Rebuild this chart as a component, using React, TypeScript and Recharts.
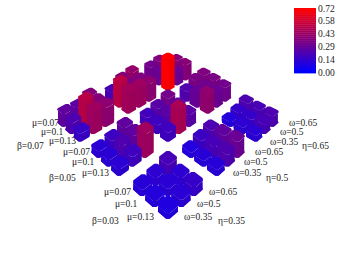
import React from 'react';
import { ScatterChart, Scatter, XAxis, YAxis, Customized } from 'recharts';

const W = 346, H = 260;
const betas = ['β=0.03', 'β=0.05', 'β=0.07'];
const etas = ['η=0.35', 'η=0.5', 'η=0.65'];
const legendTicks = ['0.72', '0.58', '0.43', '0.29', '0.14', '0.00'];
const VMAX = 0.72;

// rows: μ=0.07, 0.1, 0.13; columns: ω=0.35, 0.5, 0.65
const b03e35 = [[.11, .13, .2], [.1, .12, .13], [.09, .12, .15]];
const b03e50 = [[.1, .17, .22], [.11, .2, .27], [.11, .22, .3]];
const b03e65 = [[.1, .15, .22], [.13, .15, .21], [.12, .2, .22]];
const b05e35 = [[.12, .17, .27], [.12, .22, .27], [.12, .18, .45]];
const b05e50 = [[.19, .25, .33], [.18, .25, .28], [.18, .48, .25]];
const b05e65 = [[.23, .35, .36], [.29, .32, .35], [.41, .3, .32]];
const b07e35 = [[.27, .26, .37], [.22, .52, .37], [.16, .45, .4]];
const b07e50 = [[.21, .38, .42], [.53, .35, .36], [.46, .45, .4]];
const b07e65 = [[.32, .36, .3], [.3, .3, .38], [.72, .3, .38]];
const blocks = [[b03e35, b03e50, b03e65], [b05e35, b05e50, b05e65], [b07e35, b07e50, b07e65]];

// projection parameters of the oblique view
const K = 0.315, SX = 135, SY = 116, OX = 168, OY = 210, ZS = 62.7, D = 0.44, C = 0.14;
const proj = (s: number, t: number) => {
  const w = 1 + K * (s + t) / 10;
  return { u: (t - s) / 10 / w, q: (s + t) / 10 / w, w };
};

type Bar = { u: number; q: number; w: number; s: number; t: number; v: number };
const bars: Bar[] = [];
blocks.forEach((row, bi) => row.forEach((block, ei) => block.forEach((vals, mi) => vals.forEach((v, oi) => {
  const s = 4 * bi + (2 - mi), t = 4 * ei + oi;
  bars.push({ ...proj(s, t), s, t, v });
}))));
bars.sort((a, b) => b.s + b.t - (a.s + a.t));

const colour = (v: number, f = 1) => {
  const r = v / VMAX;
  return `rgb(${Math.round(255 * r * f)},0,${Math.round(255 * (1 - r) * f)})`;
};

const BarShape = (props: any) => {
  const { cx, cy, payload } = props;
  const { s, t, v, u, q, w } = payload as Bar;
  const pt = (a: number, b: number) => {
    const p = proj(s + a, t + b);
    return [cx + (p.u - u) * SX, cy - (p.q - q) * SY];
  };
  const h = v * ZS / w;
  const foot = [
    pt(D, -D + C), pt(D - C, -D), pt(-D + C, -D), pt(-D, -D + C),
    pt(-D, D - C), pt(-D + C, D), pt(D - C, D), pt(D, D - C),
  ];
  const up = (p: number[]) => [p[0], p[1] - h];
  const str = (ps: number[][]) => ps.map((p) => p.join(',')).join(' ');
  const front = foot.slice(0, 6);
  const silhouette = [...front, ...front.slice().reverse().map(up)];
  // left half of the sides is a touch lighter than the right half
  const leftHalf = [...foot.slice(0, 4), ...foot.slice(0, 4).reverse().map(up)];
  return (
    <g>
      <polygon points={str(silhouette)} fill={colour(v, 0.95)} />
      <polygon points={str(leftHalf)} fill={colour(v, 0.98)} />
      <polygon points={str(foot.map(up))} fill={colour(v)} />
    </g>
  );
};

const muNames = ['μ=0.07', 'μ=0.1', 'μ=0.13'];
const omNames = ['ω=0.65', 'ω=0.5', 'ω=0.35'];
const muX = [[104, 115, 127], [63, 72, 82], [32, 41, 49]];
const muY = [[192, 204, 217], [152, 162, 173], [123, 132, 141]];
const omX = [[209, 197, 184], [255, 244, 233], [289, 280, 270]];
const omY = [[192, 204, 217], [152, 162, 173], [122.5, 132, 141.5]];
const betaX = [92, 49, 17], betaY = [221, 178, 146];
const etaX = [218, 266, 302], etaY = [221, 178, 146];

const Lab = ({ x, y, children }: any) => (
  <text x={x} y={y} dy="0.32em" style={{ fontFamily: '"Liberation Serif", "Times New Roman", Times, serif', fontSize: 9.5 }} fill="#222">{children}</text>
);

const Overlay = () => {
  const n = 32, x0 = 294, y0 = 8, bw = 22, bh = 65;
  return (
    <g>
      {Array.from({ length: n }, (_, i) => (
        <rect key={i} x={x0} y={y0 + (i * bh) / n} width={bw} height={bh / n + 0.4} fill={colour(VMAX * (1 - i / (n - 1)))} />
      ))}
      {legendTicks.map((l, i) => <Lab key={l} x={318} y={8.5 + i * 12.9}>{l}</Lab>)}
      {[0, 1, 2].map((b) => (
        <g key={b}>
          {muNames.map((m, i) => <Lab key={m} x={muX[b][i]} y={muY[b][i]}>{m}</Lab>)}
          {omNames.map((m, i) => <Lab key={m} x={omX[b][i]} y={omY[b][i]}>{m}</Lab>)}
          <Lab x={betaX[b]} y={betaY[b]}>{betas[b]}</Lab>
          <Lab x={etaX[b]} y={etaY[b]}>{etas[b]}</Lab>
        </g>
      ))}
    </g>
  );
};

export default function App() {
  return (
    <div style={{ position: 'fixed', left: 0, top: 0, width: W, height: H, background: '#fff' }}>
      <ScatterChart width={W} height={H} margin={{ top: 0, right: 0, bottom: 0, left: 0 }}>
        <XAxis type="number" dataKey="u" hide domain={[-OX / SX, (W - OX) / SX]} />
        <YAxis type="number" dataKey="q" hide domain={[(OY - H) / SY, OY / SY]} />
        <Scatter data={bars} isAnimationActive={false} shape={BarShape} />
        <Customized component={Overlay} />
      </ScatterChart>
    </div>
  );
}
